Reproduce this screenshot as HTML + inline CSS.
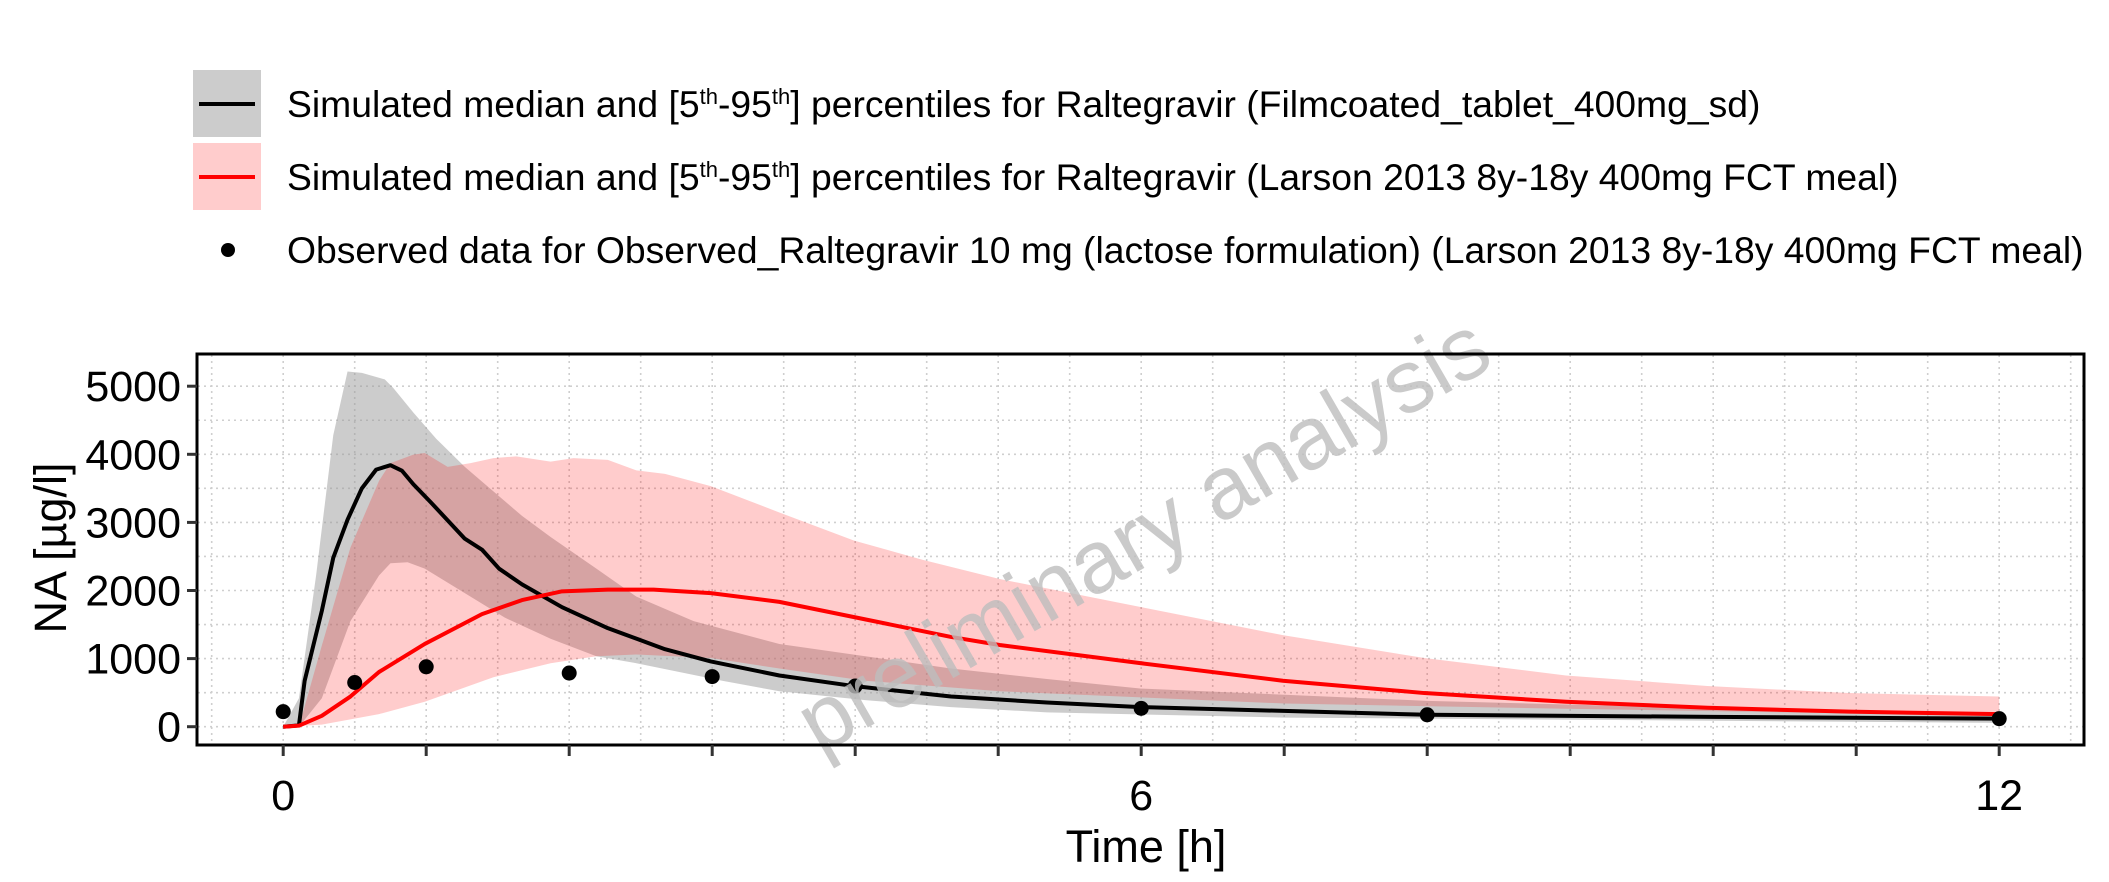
<!DOCTYPE html>
<html><head><meta charset="utf-8"><style>
html,body{margin:0;padding:0;background:#fff;}
svg{display:block;font-family:"Liberation Sans",Arial,sans-serif;}
</style></head><body>
<svg id="chart" width="2109" height="882" viewBox="0 0 2109 882">
<g id="legend">
  <g>
    <rect x="193" y="70" width="68" height="67" fill="#cccccc"/>
    <line x1="199" y1="104" x2="255" y2="104" stroke="#000" stroke-width="4"/>
    <text x="287" y="117" font-size="37.3">Simulated median and [5<tspan font-size="22" dy="-13">th</tspan><tspan dy="13">-95</tspan><tspan font-size="22" dy="-13">th</tspan><tspan dy="13">] percentiles for Raltegravir (Filmcoated_tablet_400mg_sd)</tspan></text>
  </g>
  <g>
    <rect x="193" y="143" width="68" height="67" fill="#ffcccc"/>
    <line x1="199" y1="177" x2="255" y2="177" stroke="#ff0000" stroke-width="4"/>
    <text x="287" y="190" font-size="37.3">Simulated median and [5<tspan font-size="22" dy="-13">th</tspan><tspan dy="13">-95</tspan><tspan font-size="22" dy="-13">th</tspan><tspan dy="13">] percentiles for Raltegravir (Larson 2013 8y-18y 400mg FCT meal)</tspan></text>
  </g>
  <g>
    <circle cx="228" cy="250" r="7" fill="#000"/>
    <text x="287" y="263" font-size="37.3">Observed data for Observed_Raltegravir 10 mg (lactose formulation) (Larson 2013 8y-18y 400mg FCT meal)</text>
  </g>
</g>
<g id="grid"></g>
<g id="bands"></g>
<g id="lines"></g>
<g id="points"></g>
<text x="0" y="0" font-size="89" fill="#bdbdbd" fill-opacity="0.8" text-anchor="middle" transform="translate(1158,560) rotate(-30)">preliminary analysis</text>
<rect x="197" y="354" width="1887" height="391" fill="none" stroke="#000" stroke-width="3"/>
<g id="axes"></g>
<text x="1146" y="862" font-size="45" text-anchor="middle">Time [h]</text>
<text x="0" y="0" font-size="45" text-anchor="middle" transform="translate(66,548) rotate(-90)">NA [µg/l]</text>
</svg>
<script>
const blackT=[0,0.11,0.15,0.27,0.35,0.45,0.55,0.65,0.75,0.83,0.91,1.03,1.27,1.39,1.51,1.67,1.95,2.27,2.67,2.99,3.47,3.99,4.67,5.34,6,8,10,12];
const blackMed=[0,20,675,1700,2480,3040,3500,3775,3840,3760,3560,3300,2760,2600,2320,2090,1755,1447,1138,958,752,597,443,355,288,175,144,118];
const redT=[0,0.11,0.27,0.47,0.67,0.99,1.39,1.67,1.95,2.27,2.59,2.99,3.47,4.07,4.67,5.01,6,6.99,7.98,8.97,9.96,10.95,12];
const redMed=[0,15,160,443,803,1215,1653,1859,1988,2013,2013,1962,1833,1576,1318,1200,932,675,494,366,278,221,185];
const greyUpT=[0,0.11,0.23,0.35,0.45,0.55,0.71,0.77,0.91,1.07,1.27,1.47,1.67,1.87,2.19,2.47,2.87,3.47,4.07,4.67,5.34,6,8,10,12];
const greyUp=[0,417,2220,4280,5216,5195,5100,4974,4613,4228,3816,3455,3095,2786,2322,1910,1550,1215,1035,855,700,560,380,270,190];
const greyLoT=[0,0.11,0.27,0.47,0.67,0.75,0.87,0.99,1.27,1.55,1.87,2.19,2.47,3.07,3.47,4.07,4.67,5.34,7,12];
const greyLo=[0,0,417,1550,2220,2400,2415,2322,1962,1601,1292,1035,932,675,520,391,288,211,134,57];
const pinkUpT=[0,0.11,0.27,0.47,0.67,0.75,0.91,0.99,1.15,1.31,1.47,1.63,1.87,2.03,2.27,2.47,2.67,2.99,3.47,3.99,4.47,5.01,6,6.99,7.98,8.97,9.96,10.95,12];
const pinkUp=[0,0,1190,2630,3610,3870,3995,4020,3815,3870,3944,3970,3893,3944,3918,3764,3713,3532,3146,2734,2451,2168,1756,1344,1009,752,597,494,443];
const pinkLoT=[0,0.27,0.67,0.99,1.47,1.87,2.19,2.47,2.99,3.47,4.07,5.01,7,8.97,12];
const pinkLo=[0,30,185,366,726,932,1035,1061,1009,855,675,520,340,263,160];
const obsT=[0,0.5,1,2,3,4,6,8,12];
const obsV=[221,649,880,788,736,597,270,175,118];
const yTicks=[0,1000,2000,3000,4000,5000];
const xTicks=[0,1,2,3,4,5,6,7,8,9,10,11,12];
const xLabels=[0,6,12];

const X=t=>283.2+143*t;
const Y=v=>726.7-0.0681*v;
const NS="http://www.w3.org/2000/svg";
function mk(tag,parent,attrs){const e=document.createElementNS(NS,tag);for(const k in attrs)e.setAttribute(k,attrs[k]);parent.appendChild(e);return e;}

const grid=document.getElementById('grid');
for(let t=-0.5;t<=12.5;t+=0.5){
  const g=mk('line',grid,{x1:X(t),x2:X(t),y1:355,y2:744,stroke:'#cfcfcf','stroke-width':1.6,'stroke-dasharray':'2,4'});
  
  
}
for(let v=-0;v<=5000;v+=500){
  const g=mk('line',grid,{x1:198,x2:2083,y1:Y(v),y2:Y(v),stroke:'#cfcfcf','stroke-width':1.6,'stroke-dasharray':'2,4'});
  
  
}

function bandPath(tu,vu,tl,vl){
  let d='M'+tu.map((t,i)=>X(t)+','+Y(vu[i])).join(' L');
  for(let i=tl.length-1;i>=0;i--) d+=' L'+X(tl[i])+','+Y(vl[i]);
  return d+'Z';
}
function linePath(ts,vs){return 'M'+ts.map((t,i)=>X(t)+','+Y(vs[i])).join(' L');}

const bands=document.getElementById('bands');
const gb=mk('path',bands,{d:bandPath(greyUpT,greyUp,greyLoT,greyLo),fill:'#999999','fill-opacity':0.5});


const pb=mk('path',bands,{d:bandPath(pinkUpT,pinkUp,pinkLoT,pinkLo),fill:'#ff0000','fill-opacity':0.2});



const lines=document.getElementById('lines');
const bl=mk('path',lines,{d:linePath(blackT,blackMed),fill:'none',stroke:'#000','stroke-width':4,'stroke-linejoin':'round'});


const rl=mk('path',lines,{d:linePath(redT,redMed),fill:'none',stroke:'#ff0000','stroke-width':4,'stroke-linejoin':'round'});



const pts=document.getElementById('points');
obsT.forEach((t,i)=>{
  const c=mk('circle',pts,{cx:X(t),cy:Y(obsV[i]),r:7.5,fill:'#000'});
  
  
});

const axes=document.getElementById('axes');
yTicks.forEach(v=>{
  const l=mk('line',axes,{x1:187,x2:197,y1:Y(v),y2:Y(v),stroke:'#333','stroke-width':3});
  
  
  const tx=mk('text',axes,{x:181,y:Y(v)+15,'font-size':43,'text-anchor':'end',fill:'#000'});
  tx.textContent=v;
  
  
});
xTicks.forEach(t=>{
  const l=mk('line',axes,{x1:X(t),x2:X(t),y1:745,y2:756,stroke:'#333','stroke-width':3});
  
  
});
xLabels.forEach(t=>{
  const tx=mk('text',axes,{x:X(t),y:810,'font-size':43,'text-anchor':'middle',fill:'#000'});
  tx.textContent=t;
  
  
});
</script>
</body></html>
